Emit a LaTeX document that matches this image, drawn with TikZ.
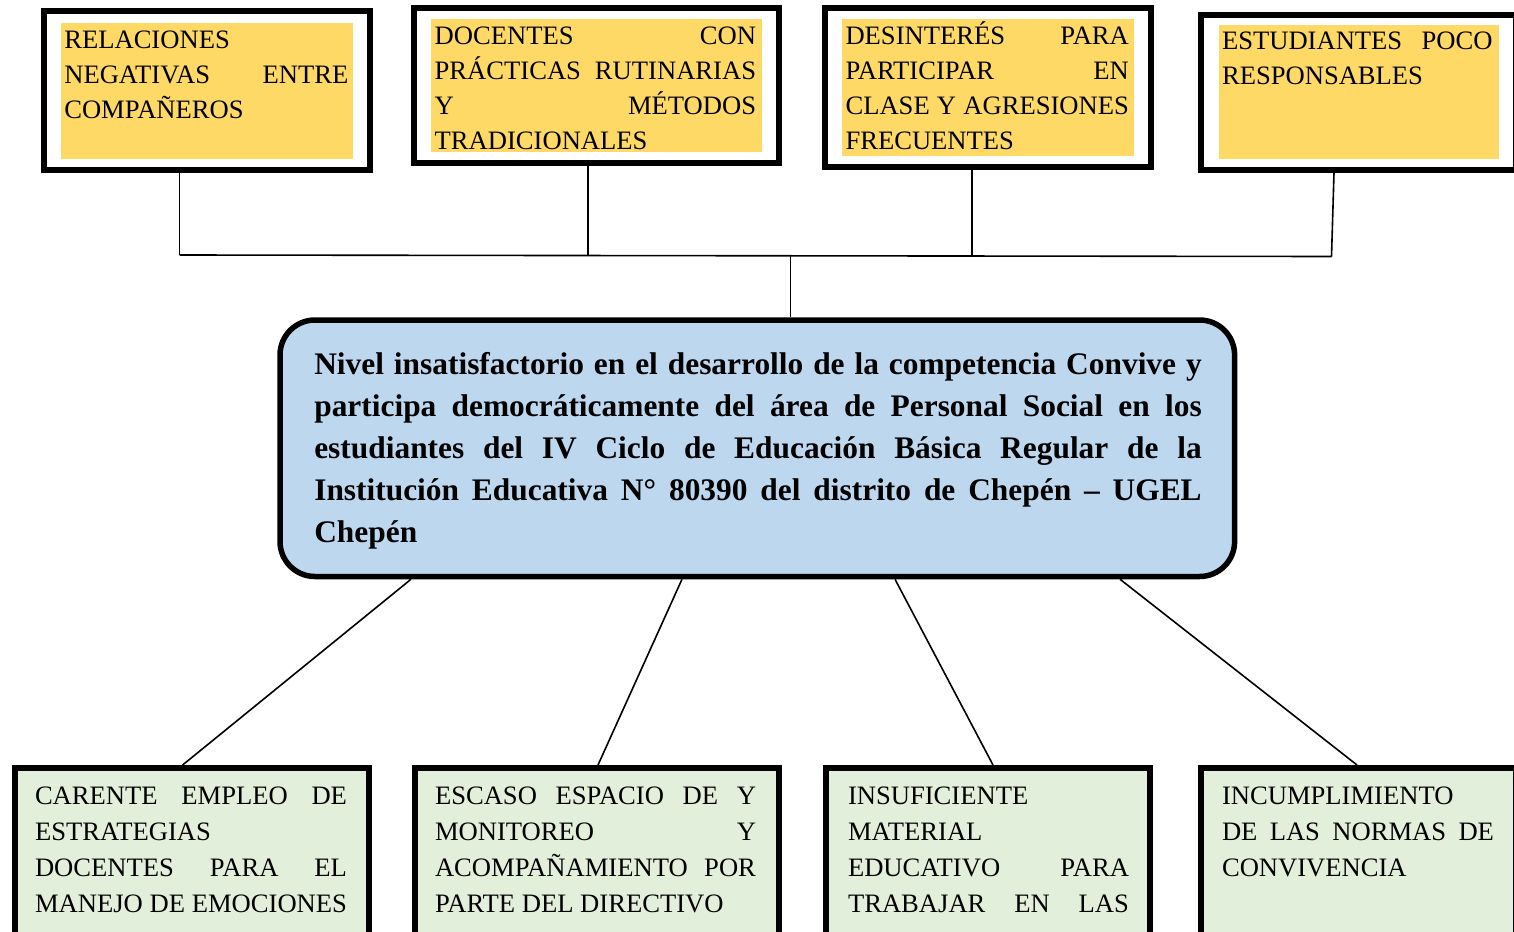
\documentclass[tikz,border=0pt]{standalone}
\usepackage{fontspec}
\setmainfont{Liberation Serif}
\definecolor{yel}{HTML}{FFD966}
\definecolor{grn}{HTML}{E2EFDA}
\definecolor{blu}{HTML}{BDD7EE}
\newcommand{\J}[1]{\makebox[\linewidth][s]{#1}}
\begin{document}
\begin{tikzpicture}[x=0.5pt,y=-0.5pt,
  frame/.style={draw=black, line width=3pt, rectangle, inner sep=0pt},
  topframe/.style={frame, fill=white},
  botframe/.style={frame, fill=grn},
  yelbox/.style={rectangle, fill=yel, inner sep=0pt, outer sep=0pt},
  centralbox/.style={draw=black, line width=2.75pt, fill=blu, rectangle, rounded corners=17.5pt, inner sep=0pt},
  txt/.style={anchor=base west, inner sep=0pt, outer sep=0pt},
  conn/.style={draw=black, line width=0.8pt}]
\useasboundingbox (0,0) rectangle (1514,931);

% top frames
\node[topframe, minimum width=163.3pt, minimum height=79.35pt] (F1) at (207,90.65) {};
\node[topframe, minimum width=182.25pt, minimum height=77.35pt] (F2) at (596.25,85.35) {};
\node[topframe, minimum width=162.8pt, minimum height=79.5pt] (F3) at (987.8,87.5) {};
\node[topframe, minimum width=157.25pt, minimum height=77.5pt] (F4) at (1358.25,92.2) {};

% yellow fills
\node[yelbox, minimum width=145.85pt, minimum height=67.7pt] (Y1) at (206.85,91) {};
\node[yelbox, minimum width=165.5pt, minimum height=66.35pt] (Y2) at (596.5,85.35) {};
\node[yelbox, minimum width=145.85pt, minimum height=68.35pt] (Y3) at (987.65,87.35) {};
\node[yelbox, minimum width=139.95pt, minimum height=67pt] (Y4) at (1358.65,92) {};

% top texts
\node[txt] (T1) at (64.3,48.3) {\parbox[t]{142pt}{\fontsize{13.3}{17.5}\selectfont
  RELACIONES\\ \J{NEGATIVAS ENTRE}\\ COMPAÑEROS}};
\node[txt] (T2) at (434.7,44.3) {\parbox[t]{160.7pt}{\fontsize{13.3}{17.5}\selectfont
  \J{DOCENTES CON}\\ \J{PRÁCTICAS RUTINARIAS}\\ \J{Y MÉTODOS}\\ TRADICIONALES}};
\node[txt] (T3) at (845.5,44.3) {\parbox[t]{141.7pt}{\fontsize{13.3}{17.5}\selectfont
  \J{DESINTERÉS PARA}\\ \J{PARTICIPAR EN}\\ \J{CLASE Y AGRESIONES}\\ FRECUENTES}};
\node[txt] (T4) at (1222,50) {\parbox[t]{135.3pt}{\fontsize{13.3}{17.5}\selectfont
  \J{ESTUDIANTES POCO}\\ RESPONSABLES}};

% central box
\node[centralbox, minimum width=477.3pt, minimum height=128.25pt] (C) at (757.3,448.25) {};
\node[txt] (CT) at (314.3,374) {\parbox[t]{443.7pt}{\fontsize{15.7}{21}\selectfont\bfseries
  \J{Nivel insatisfactorio en el desarrollo de la competencia Convive y}\\
  \J{participa democráticamente del área de Personal Social en los}\\
  \J{estudiantes del IV Ciclo de Educación Básica Regular de la}\\
  \J{Institución Educativa N° 80390 del distrito de Chepén – UGEL}\\
  Chepén}};

% bottom frames
\node[botframe, minimum width=177pt, minimum height=93.5pt] (B1) at (191.7,861.5) {};
\node[botframe, minimum width=182pt, minimum height=93.5pt] (B2) at (597,861.5) {};
\node[botframe, minimum width=162pt, minimum height=93.5pt] (B3) at (988,861.5) {};
\node[botframe, minimum width=157.25pt, minimum height=93.5pt] (B4) at (1358.25,861.5) {};

% bottom texts
\node[txt] (BT1) at (35,804) {\parbox[t]{156pt}{\fontsize{13.3}{18}\selectfont
  \J{CARENTE EMPLEO DE}\\ ESTRATEGIAS\\ \J{DOCENTES PARA EL}\\ \J{MANEJO DE EMOCIONES}}};
\node[txt] (BT2) at (435,804) {\parbox[t]{160.5pt}{\fontsize{13.3}{18}\selectfont
  \J{ESCASO ESPACIO DE Y}\\ \J{MONITOREO Y}\\ \J{ACOMPAÑAMIENTO POR}\\ PARTE DEL DIRECTIVO}};
\node[txt] (BT3) at (848,804) {\parbox[t]{140.5pt}{\fontsize{13.3}{18}\selectfont
  INSUFICIENTE\\ MATERIAL\\ \J{EDUCATIVO PARA}\\ \J{TRABAJAR EN LAS}}};
\node[txt] (BT4) at (1222,804) {\parbox[t]{136pt}{\fontsize{13.3}{18}\selectfont
  INCUMPLIMIENTO\\ \J{DE LAS NORMAS DE}\\ CONVIVENCIA}};

% top connectors
\coordinate (j1) at (179.6,255);
\coordinate (j2) at (587.8,255.4);
\coordinate (j3) at (972,256);
\coordinate (j4) at (1331.5,256.5);
\coordinate (jc) at (790.3,255.7);
\coordinate (k4) at (1334,0);
\draw[conn] (F1.south -| j1) -- (j1);
\draw[conn] (F2.south -| j2) -- (j2);
\draw[conn] (F3.south -| j3) -- (j3);
\draw[conn] (F4.south -| k4) -- (j4);
\draw[conn] (j1) -- (j4);
\draw[conn] (jc) -- (jc |- C.north);

% bottom connectors
\coordinate (d1) at (411,0);  \coordinate (e1) at (182.6,0);
\coordinate (d2) at (682,0);  \coordinate (e2) at (598,0);
\coordinate (d3) at (895,0);  \coordinate (e3) at (993,0);
\coordinate (d4) at (1120,0); \coordinate (e4) at (1357,0);
\draw[conn] (C.south -| d1) -- (B1.north -| e1);
\draw[conn] (C.south -| d2) -- (B2.north -| e2);
\draw[conn] (C.south -| d3) -- (B3.north -| e3);
\draw[conn] (C.south -| d4) -- (B4.north -| e4);
\end{tikzpicture}
\end{document}
